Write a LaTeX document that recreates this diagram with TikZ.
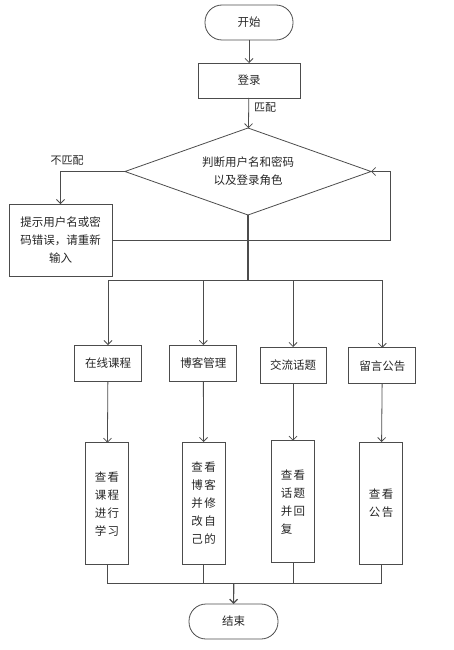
\documentclass[tikz,border=0pt]{standalone}
\usepackage{fontspec}
\setmainfont{Noto Sans CJK SC}
\usetikzlibrary{shapes.geometric,arrows.meta}
\begin{document}
\begin{tikzpicture}[x=1pt,y=-1pt,
  font=\fontsize{11.5}{18}\selectfont,
  every node/.style={inner sep=0pt, outer sep=0pt, text=black!85},
  line/.style={draw=black!70, line width=0.8pt},
  arr/.style={line, -{Straight Barb[length=4pt,width=8pt]}},
  term/.style={line, rounded corners=17pt},
  box/.style={line, rectangle},
  tall/.style={line, rectangle, align=left, minimum width=43pt, minimum height=122pt},
  lbl/.style={font=\fontsize{11}{13}\selectfont}
]
\useasboundingbox (0,0) rectangle (453,650);
% nodes
\node[term, minimum width=88pt, minimum height=35pt] (start) at (249,22.5) {开始};
\node[box, minimum width=102pt, minimum height=35pt] (login) at (249,80.5) {登录};
\node[line, diamond, shape aspect=2.83, minimum width=246pt, minimum height=87pt, align=center] (d) at (248,171.5) {判断用户名和密码\\以及登录角色};
\node[box, minimum width=103pt, minimum height=72pt, align=center] (err) at (60.5,240) {提示用户名或密\\码错误，请重新\\输入};
\node[box, minimum width=67pt, minimum height=36pt] (b1) at (108,363) {在线课程};
\node[box, minimum width=67pt, minimum height=36pt] (b2) at (203.3,363) {博客管理};
\node[box, minimum width=66pt, minimum height=36pt] (b3) at (293,365) {交流话题};
\node[box, minimum width=67pt, minimum height=36pt] (b4) at (382.3,365.8) {留言公告};
\node[tall] (t1) at (107,503.7) {查\hspace{1.5pt}看\\课\hspace{1.5pt}程\\进\hspace{1.5pt}行\\学\hspace{1.5pt}习};
\node[tall] (t2) at (203.7,503) {查\hspace{1.5pt}看\\博\hspace{1.5pt}客\\并\hspace{1.5pt}修\\改\hspace{1.5pt}自\\己\hspace{1.5pt}的};
\node[tall] (t3) at (293,501.7) {查\hspace{1.5pt}看\\话\hspace{1.5pt}题\\并\hspace{1.5pt}回\\复};
\node[tall] (t4) at (381,503) {查\hspace{1.5pt}看\\公\hspace{1.5pt}告};
\node[term, minimum width=89pt, minimum height=35pt] (end) at (233.5,621.5) {结束};
% labels
\node[lbl] (m1) at (265,108) {匹配};
\node[lbl] (m2) at (67,161) {不匹配};
% coordinates
\coordinate (j) at (248,280);
\coordinate (loop) at (390,240);
\coordinate (k) at (233.7,583.7);
% connectors
\draw[arr] (start) -- (login);
\draw[arr] (login) -- (d);
\draw[arr] (d.west) -| (err.north);
\draw[arr] (err.east) -- (loop) |- (d.east);
\draw[line, line width=1.5pt] (d.south) -- (j);
\draw[arr] (j) -| (b1.north);
\draw[arr] (j) -| (b2.north);
\draw[arr] (j) -| (b3.north);
\draw[arr] (j) -| (b4.north);
\draw[arr] (b1) -- (t1);
\draw[arr] (b2) -- (t2);
\draw[arr] (b3) -- (t3);
\draw[arr] (b4) -- (t4);
\draw[line] (t1.south) |- (k);
\draw[line] (t2.south) |- (k);
\draw[line] (t3.south) |- (k);
\draw[line] (t4.south) |- (k);
\draw[arr, line width=1.2pt] (k) -- (end);
\end{tikzpicture}
\end{document}
